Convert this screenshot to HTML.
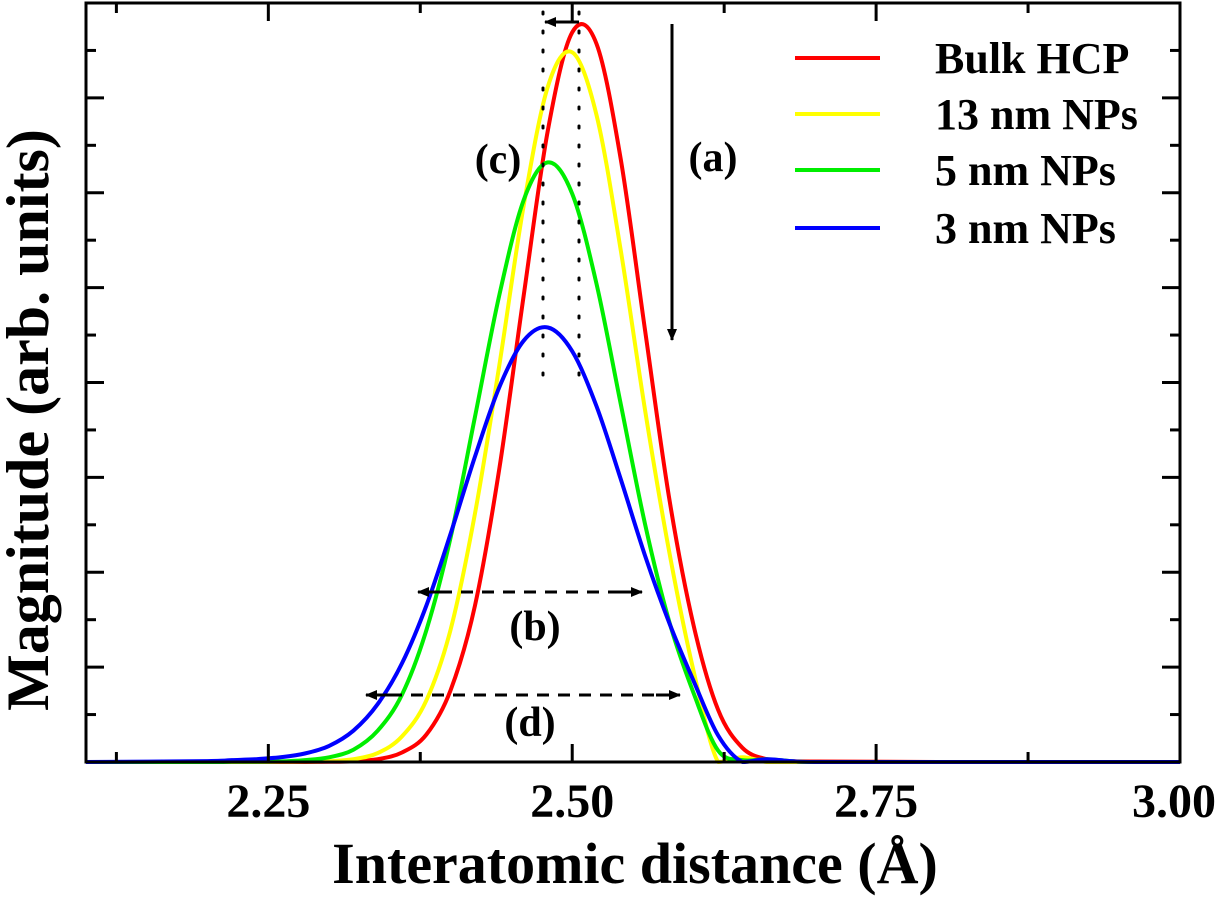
<!DOCTYPE html>
<html><head><meta charset="utf-8"><style>
html,body{margin:0;padding:0;background:#fff;}
svg{display:block;font-family:"Liberation Serif",serif;font-weight:bold;}
</style></head><body>
<svg id="chart" width="1218" height="916" viewBox="0 0 1218 916">
<defs>
<marker id="ah" markerWidth="12" markerHeight="10" refX="11" refY="5" orient="auto" markerUnits="userSpaceOnUse"><path d="M0,0 L12,5 L0,10 Z" fill="#000"/></marker>
</defs>
<g id="plot"></g>
<g font-size="44">
<line x1="795" y1="58" x2="880" y2="58" stroke="#ff0000" stroke-width="4"/>
<text x="935" y="73">Bulk HCP</text>
<line x1="795" y1="114" x2="880" y2="114" stroke="#ffff00" stroke-width="4"/>
<text x="935" y="129">13 nm NPs</text>
<line x1="795" y1="170" x2="880" y2="170" stroke="#00ee00" stroke-width="4"/>
<text x="935" y="185">5 nm NPs</text>
<line x1="795" y1="228" x2="880" y2="228" stroke="#0000ff" stroke-width="4"/>
<text x="935" y="243">3 nm NPs</text>
</g>
<g font-size="42">
<line x1="543" y1="12" x2="543" y2="388" stroke="#000" stroke-width="3" stroke-dasharray="2,17" stroke-linecap="round"/>
<line x1="579" y1="12" x2="579" y2="388" stroke="#000" stroke-width="3" stroke-dasharray="2,17" stroke-linecap="round"/>
<line x1="579" y1="22" x2="545" y2="22" stroke="#000" stroke-width="3" marker-end="url(#ah)"/>
<line x1="672" y1="24" x2="672" y2="340" stroke="#000" stroke-width="3" marker-end="url(#ah)"/>
<text x="713" y="171" text-anchor="middle">(a)</text>
<text x="498" y="173" text-anchor="middle">(c)</text>
<line x1="440" y1="592" x2="418" y2="592" stroke="#000" stroke-width="3" marker-end="url(#ah)"/>
<line x1="440" y1="592" x2="620" y2="592" stroke="#000" stroke-width="3" stroke-dasharray="12,9"/>
<line x1="620" y1="592" x2="642" y2="592" stroke="#000" stroke-width="3" marker-end="url(#ah)"/>
<text x="535" y="640" text-anchor="middle">(b)</text>
<line x1="390" y1="695" x2="366" y2="695" stroke="#000" stroke-width="3" marker-end="url(#ah)"/>
<line x1="390" y1="695" x2="656" y2="695" stroke="#000" stroke-width="3" stroke-dasharray="12,9"/>
<line x1="656" y1="695" x2="680" y2="695" stroke="#000" stroke-width="3" marker-end="url(#ah)"/>
<text x="530" y="736" text-anchor="middle">(d)</text>
</g>
<text x="635" y="883" text-anchor="middle" font-size="58">Interatomic distance (Å)</text>
<text transform="translate(48,420) rotate(-90)" text-anchor="middle" font-size="60">Magnitude (arb. units)</text>
</svg>
<script>
const xs = [2.10,2.20,2.22,2.24,2.26,2.28,2.30,2.32,2.34,2.36,2.38,2.40,2.42,2.44,2.46,2.48,2.50,2.52,2.54,2.56,2.58,2.60,2.62,2.64,2.66,2.68,2.70,2.80,3.00];
const bulk = [0,0,0,0,0,0,0.002,0.008,0.03,0.10,0.29,0.76,1.65,3.09,4.91,6.66,7.69,7.57,6.35,4.54,2.76,1.43,0.55,0.15,0.03,0.01,0.005,0,0];
const np13 = [0,0,0,0,0.002,0.004,0.008,0.03,0.094,0.27,0.65,1.40,2.62,4.18,5.86,7.12,7.48,6.82,5.39,3.70,2.20,0.95,0.0,0.05,0.0,0,0,0,0];
const np5 = [0,0,0.002,0.003,0.006,0.02,0.05,0.13,0.33,0.71,1.39,2.37,3.64,4.92,5.92,6.32,5.99,5.04,3.77,2.50,1.47,0.72,0.12,0.02,0.03,0.01,0,0,0];
const np3 = [0,0.01,0.02,0.03,0.05,0.09,0.17,0.33,0.61,1.04,1.65,2.41,3.22,3.95,4.44,4.58,4.33,3.75,2.98,2.17,1.46,0.85,0.28,0.0,0.03,0.01,0,0,0];
const xTicks = [2.25,2.50,2.75,3.00];
const xTickLabels = ["2.25","2.50","2.75","3.00"];

const X0=86, X1=1180, Y0=762, Y1=3, XMIN=2.10, XMAX=3.00, YMAX=8;
const sx = v => X0 + (v-XMIN)/(XMAX-XMIN)*(X1-X0);
const sy = v => Y0 - v/YMAX*(Y0-Y1);
const NS="http://www.w3.org/2000/svg";
const plot=document.getElementById('plot');
function mk(tag, attrs){const e=document.createElementNS(NS,tag);for(const k in attrs)e.setAttribute(k,attrs[k]);return e;}
function smoothPath(pts){
  let d=`M${pts[0][0]},${pts[0][1]}`;
  for(let i=0;i<pts.length-1;i++){
    const p0=pts[Math.max(i-1,0)],p1=pts[i],p2=pts[i+1],p3=pts[Math.min(i+2,pts.length-1)];
    const c1x=p1[0]+(p2[0]-p0[0])/6,c1y=p1[1]+(p2[1]-p0[1])/6;
    const c2x=p2[0]-(p3[0]-p1[0])/6,c2y=p2[1]-(p3[1]-p1[1])/6;
    d+=` C${c1x.toFixed(1)},${Math.min(c1y,Y0).toFixed(1)} ${c2x.toFixed(1)},${Math.min(c2y,Y0).toFixed(1)} ${p2[0].toFixed(1)},${p2[1].toFixed(1)}`;
  }
  return d;
}
const series=[[bulk,'#ff0000','series-bulk-hcp'],[np13,'#ffff00','series-13nm'],[np5,'#00ee00','series-5nm'],[np3,'#0000ff','series-3nm']];
series.forEach(([ys,col,name])=>{
  const p=mk('path',{d:smoothPath(xs.map((x,i)=>[sx(x),sy(ys[i])])),fill:'none',stroke:col,'stroke-width':4,'stroke-linejoin':'round'});
  
  
  plot.appendChild(p);
});
const frame=mk('rect',{x:X0,y:Y1,width:X1-X0,height:Y0-Y1,fill:'none',stroke:'#000','stroke-width':3});


plot.appendChild(frame);
for(let v=2.125; v<3.0001; v+=0.125){
  const major=xTicks.some(t=>Math.abs(t-v)<1e-6);
  const L=major?18:10;
  const t=mk('line',{x1:sx(v),x2:sx(v),y1:Y0,y2:Y0-L,stroke:'#000','stroke-width':3});
  
  
  plot.appendChild(t);
  const t2=mk('line',{x1:sx(v),x2:sx(v),y1:Y1,y2:Y1+L,stroke:'#000','stroke-width':3});
  
  
  plot.appendChild(t2);
}
xTicks.forEach((v,i)=>{
  const tx=mk('text',{x:Math.min(sx(v),1174),y:817,'text-anchor':'middle','font-size':48});
  tx.textContent=xTickLabels[i];
  
  
  plot.appendChild(tx);
});
for(let v=0.5; v<YMAX; v+=0.5){
  const major=Math.abs(v-Math.round(v))<1e-6;
  const L=major?18:10;
  const t=mk('line',{x1:X0,x2:X0+L,y1:sy(v),y2:sy(v),stroke:'#000','stroke-width':3});
  
  
  plot.appendChild(t);
  const t2=mk('line',{x1:X1,x2:X1-L,y1:sy(v),y2:sy(v),stroke:'#000','stroke-width':3});
  
  
  plot.appendChild(t2);
}
</script>
</body></html>
